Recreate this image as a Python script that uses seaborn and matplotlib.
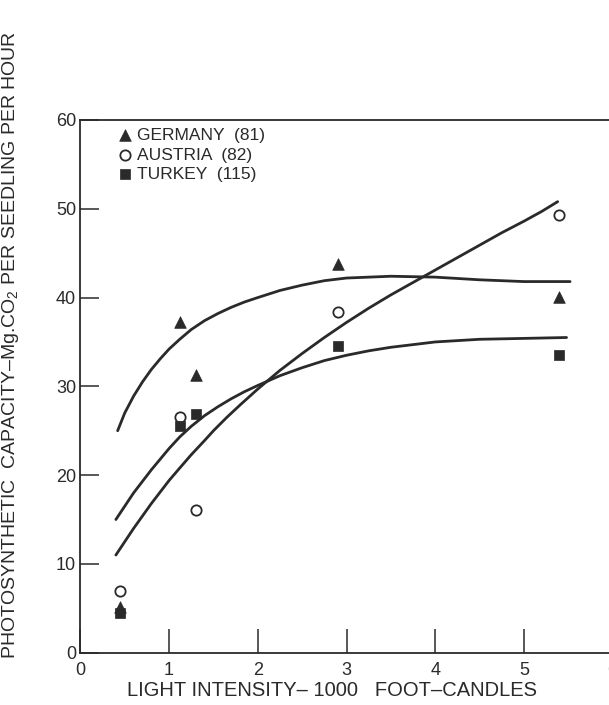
import matplotlib
matplotlib.use("Agg")
import matplotlib.pyplot as plt
import seaborn as sns

# measured points (light intensity, 1000 foot-candles)
light = [0.45, 1.12, 1.30, 2.90, 5.40]
germany = [5.2, 37.3, 31.3, 43.8, 40.1]
austria = [7.0, 26.6, 16.1, 38.4, 49.3]
turkey = [4.5, 25.5, 26.9, 34.5, 33.5]

# hand-fitted curves
germany_fit_x = [0.42, 0.50, 0.60, 0.70, 0.80, 0.90, 1.00, 1.12, 1.25, 1.40, 1.55, 1.70,
                 1.85, 2.00, 2.25, 2.50, 2.75, 3.00, 3.50, 4.00, 4.50, 5.00, 5.52]
germany_fit_y = [25.0, 27.0, 28.9, 30.5, 31.9, 33.1, 34.2, 35.3, 36.4, 37.4, 38.2, 38.9,
                 39.5, 40.0, 40.8, 41.4, 41.9, 42.2, 42.4, 42.3, 42.0, 41.8, 41.8]
austria_fit_x = [0.40, 0.50, 0.60, 0.70, 0.80, 0.90, 1.00, 1.12, 1.25, 1.40, 1.50, 1.65, 1.80,
                 2.00, 2.25, 2.50, 2.75, 3.00, 3.25, 3.50, 3.75, 4.00, 4.25, 4.50, 4.75,
                 5.00, 5.20, 5.38]
austria_fit_y = [11.0, 12.5, 14.0, 15.4, 16.8, 18.1, 19.4, 20.8, 22.3, 23.9, 25.0, 26.5, 27.9,
                 29.7, 31.8, 33.7, 35.5, 37.2, 38.8, 40.3, 41.7, 43.1, 44.5, 45.9, 47.3,
                 48.6, 49.7, 50.8]
turkey_fit_x = [0.40, 0.50, 0.60, 0.70, 0.80, 0.90, 1.00, 1.12, 1.25, 1.40, 1.55, 1.70, 1.85,
                2.00, 2.25, 2.50, 2.75, 3.00, 3.25, 3.50, 3.75, 4.00, 4.50, 5.00, 5.48]
turkey_fit_y = [15.0, 16.5, 18.0, 19.3, 20.6, 21.8, 23.0, 24.3, 25.5, 26.7, 27.7, 28.6, 29.4,
                30.1, 31.2, 32.1, 32.9, 33.5, 34.0, 34.4, 34.7, 35.0, 35.3, 35.4, 35.5]

labels = ["GERMANY  (81)", "AUSTRIA  (82)", "TURKEY  (115)"]
xticks = [0, 1, 2, 3, 4, 5, 6]
yticks = [0, 10, 20, 30, 40, 50, 60]

ink = "#2a2a2a"

sns.set_style("ticks")
plt.rcParams["font.family"] = ["Liberation Sans", "DejaVu Sans"]
plt.rcParams["mathtext.fontset"] = "custom"
plt.rcParams["mathtext.rm"] = "Liberation Sans"

fig = plt.figure(figsize=(6.09, 7.05), dpi=100)
ax = fig.add_axes([0.132, 0.0742, 0.874, 0.7556])

# curves
for fx, fy in [(germany_fit_x, germany_fit_y), (austria_fit_x, austria_fit_y),
               (turkey_fit_x, turkey_fit_y)]:
    sns.lineplot(x=fx, y=fy, color=ink, lw=2.0, sort=False, estimator=None, ax=ax)

# points
sns.scatterplot(x=light, y=germany, marker="^", s=70, color=ink, edgecolor=ink,
                linewidth=0.5, label=labels[0], ax=ax, zorder=3)
sns.scatterplot(x=light, y=austria, marker="o", s=55, color="white", edgecolor=ink,
                linewidth=1.3, label=labels[1], ax=ax, zorder=3)
sns.scatterplot(x=light, y=turkey, marker="s", s=60, color=ink, edgecolor=ink,
                linewidth=0.5, label=labels[2], ax=ax, zorder=3)

ax.set_xlim(0, 6)
ax.set_ylim(0, 60)
ax.set_xticks(xticks)
ax.set_yticks(yticks)
ax.set_xticklabels([str(t) for t in xticks], fontsize=13, color=ink)
ax.set_yticklabels([str(t) for t in yticks], fontsize=13, color=ink)
ax.tick_params(axis="x", direction="in", length=17, width=1.1, color=ink, pad=7)
ax.tick_params(axis="y", direction="in", length=14, width=1.1, color=ink, pad=3)

for side in ["left", "bottom", "top"]:
    ax.spines[side].set_linewidth(1.3)
    ax.spines[side].set_color(ink)
ax.spines["right"].set_visible(False)

ax.set_xlabel("LIGHT INTENSITY\u2013 1000   FOOT\u2013CANDLES", fontsize=14.5, color=ink)
ax.xaxis.set_label_coords(0.473, -0.054)
ax.set_ylabel("PHOTOSYNTHETIC  CAPACITY\u2013Mg.CO$_2$ PER SEEDLING PER HOUR",
              fontsize=14, color=ink)
ax.yaxis.set_label_coords(-0.112, 0.578)

ax.legend(loc="upper left", bbox_to_anchor=(0.045, 1.008), frameon=False,
          fontsize=12.5, handletextpad=0.2, labelspacing=0.25, handlelength=1.0,
          borderpad=0.2, labelcolor=ink)

fig.savefig("out.png", dpi=100, facecolor="white")
